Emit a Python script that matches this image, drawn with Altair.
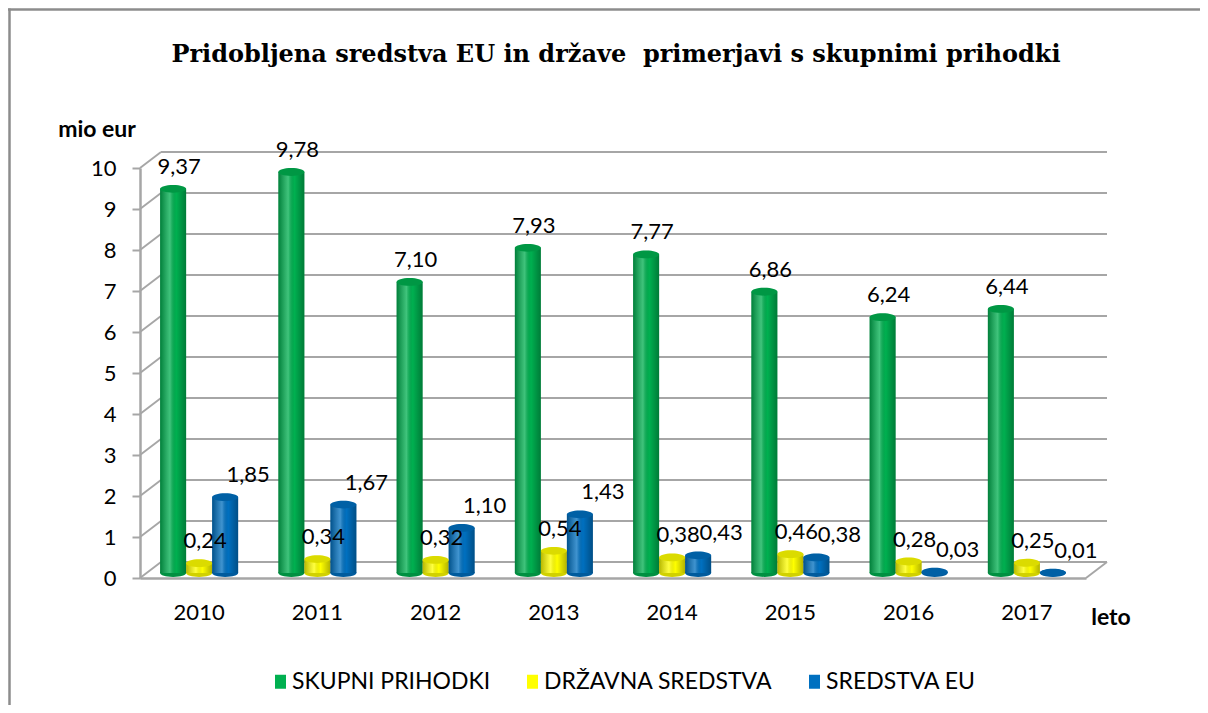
import altair as alt
import pandas as pd

years = ["2010", "2011", "2012", "2013", "2014", "2015", "2016", "2017"]
skupni = [9.37, 9.78, 7.10, 7.93, 7.77, 6.86, 6.24, 6.44]
drzavna = [0.24, 0.34, 0.32, 0.54, 0.38, 0.46, 0.28, 0.25]
eu = [1.85, 1.67, 1.10, 1.43, 0.43, 0.38, 0.03, 0.01]
series_names = ["SKUPNI PRIHODKI", "DRŽAVNA SREDSTVA", "SREDSTVA EU"]
series_colors = ["#00B050", "#FFFF00", "#0070C0"]
y_ticks = list(range(0, 11))

rows = []
for name, vals in zip(series_names, [skupni, drzavna, eu]):
    for yr, v in zip(years, vals):
        rows.append({"year": yr, "series": name, "value": v, "zero": 0,
                     "label": f"{v:.2f}".replace(".", ",")})
df = pd.DataFrame(rows)
grid_df = pd.DataFrame({"value": y_ticks})
one = pd.DataFrame({"a": [0]})

W, H = 946, 410
DX, DY = 21, -16
SHIFT = 10
GRID = "#a6a6a6"
FRAME = "#8c8c8c"
ELL = "M-1,0A1,0.3 0 1,0 1,0A1,0.3 0 1,0 -1,0Z"

yscale = alt.Scale(domain=[0, 10])
xscale = alt.Scale(domain=years, paddingInner=0.34, paddingOuter=0.17)
xoscale = alt.Scale(domain=series_names, paddingInner=0, paddingOuter=0)

YAX = alt.Axis(values=y_ticks, grid=False, title=None, domainColor=GRID,
               domainWidth=2.5, tickColor=GRID, tickWidth=2, tickSize=8,
               labelFont="Lato", labelFontSize=22, labelColor="#000",
               labelPadding=16, zindex=1)
XAX = alt.Axis(title=None, ticks=False, domainColor=GRID, domainWidth=2.5,
               labelAngle=0, labelFont="Lato", labelFontSize=22,
               labelPadding=24, labelColor="#000", zindex=1)

X = alt.X("year:N", scale=xscale, sort=years, axis=XAX)
XO = alt.XOffset("series:N", scale=xoscale, sort=series_names)
COLOR = alt.Color("series:N", sort=series_names,
                  scale=alt.Scale(domain=series_names, range=series_colors),
                  legend=alt.Legend(title=None, orient="none", legendX=129, legendY=502,
                                    direction="horizontal",
                                    symbolType="M-0.79,-1H0.79V1H-0.79Z", symbolSize=196,
                                    symbolStrokeWidth=0, labelFont="Lato", labelFontSize=23,
                                    labelColor="#000", labelOffset=0, columnPadding=30,
                                    labelLimit=0))


def Y(field):
    return alt.Y(field, type="quantitative", scale=yscale, axis=YAX)


frame_top = alt.Chart(one).mark_rule(color=FRAME, strokeWidth=2.5).encode(
    x=alt.value(-132), x2=alt.value(1100), y=alt.value(-158.5))
frame_left = alt.Chart(one).mark_rule(color=FRAME, strokeWidth=2.5).encode(
    x=alt.value(-130.5), y=alt.value(-159.5), y2=alt.value(600))

title = alt.Chart(one).mark_text(
    text="Pridobljena sredstva EU in države\u00a0 primerjavi s skupnimi prihodki",
    font="DejaVu Serif", fontWeight="bold", fontSize=24, align="center",
    baseline="alphabetic", color="#000").encode(x=alt.value(476), y=alt.value(-106))

unit_y = alt.Chart(one).mark_text(text="mio eur", font="Lato", fontWeight="bold",
                                  fontSize=23, align="center", baseline="middle",
                                  color="#000").encode(x=alt.value(-43), y=alt.value(-38))
unit_x = alt.Chart(one).mark_text(text="leto", font="Lato", fontWeight="bold",
                                  fontSize=23, align="center", baseline="middle",
                                  color="#000").encode(x=alt.value(971), y=alt.value(450))

back_grid = alt.Chart(grid_df).mark_rule(color=GRID, strokeWidth=2, yOffset=DY).encode(
    y=Y("value"), x=alt.value(DX), x2=alt.value(W + DX))
side_grid = alt.Chart(grid_df).mark_rule(color=GRID, strokeWidth=2, y2Offset=DY).encode(
    y=Y("value"), y2=alt.Y2("value"), x=alt.value(0), x2=alt.value(DX))
floor_edge = alt.Chart(one).mark_rule(color=GRID, strokeWidth=2).encode(
    x=alt.value(W), x2=alt.value(W + DX), y=alt.value(H), y2=alt.value(H + DY))

base = alt.Chart(df).encode(x=X, xOffset=XO)

bars = base.mark_bar(xOffset=SHIFT, yOffset=-5, y2Offset=-5).encode(
    y=Y("value"), y2=alt.Y2("zero"), color=COLOR)

shade = base.mark_bar(xOffset=SHIFT, yOffset=-5, y2Offset=-5, fill=alt.Gradient(
    gradient="linear", x1=0, x2=1, y1=0, y2=0,
    stops=[alt.GradientStop(color="rgba(0,0,0,0.28)", offset=0),
           alt.GradientStop(color="rgba(255,255,255,0.25)", offset=0.38),
           alt.GradientStop(color="rgba(0,0,0,0.0)", offset=0.62),
           alt.GradientStop(color="rgba(0,0,0,0.30)", offset=1)])).encode(
    y=Y("value"), y2=alt.Y2("zero"))

bottom_ell = base.mark_point(shape=ELL, filled=True, size=676, opacity=1, strokeWidth=0,
                             xOffset=SHIFT, yOffset=-5).encode(y=Y("zero"), color=COLOR)
bottom_shade = base.mark_point(shape=ELL, filled=True, size=676, opacity=0.18, strokeWidth=0,
                               fill="#000", xOffset=SHIFT, yOffset=-5).encode(y=Y("zero"))
top_ell = base.mark_point(shape=ELL, filled=True, size=676, opacity=1, strokeWidth=0,
                          xOffset=SHIFT, yOffset=-5).encode(y=Y("value"), color=COLOR)
top_shade = base.mark_point(shape=ELL, filled=True, size=676, opacity=0.14, strokeWidth=0,
                            fill="#000", xOffset=SHIFT, yOffset=-5).encode(y=Y("value"))

label_dx = {"SKUPNI PRIHODKI": 6, "DRŽAVNA SREDSTVA": 6, "SREDSTVA EU": 23}
labels = []
for name in series_names:
    labels.append(base.transform_filter(alt.datum.series == name).mark_text(
        font="Lato", fontSize=22, color="#000", baseline="alphabetic", align="center",
        dy=-20, dx=label_dx[name]).encode(y=Y("value"), text="label:N"))

chart = alt.layer(frame_top, frame_left, title, unit_y, unit_x, back_grid, side_grid,
                  floor_edge, bottom_ell, bottom_shade, bars, shade, top_ell, top_shade,
                  *labels).properties(
    width=W, height=H,
    autosize=alt.AutoSizeParams(type="none"),
    padding={"left": 132, "top": 160, "right": 114, "bottom": 127},
).configure_view(stroke=None)

chart.save("out.html", embed_options={"renderer": "svg", "actions": False})
